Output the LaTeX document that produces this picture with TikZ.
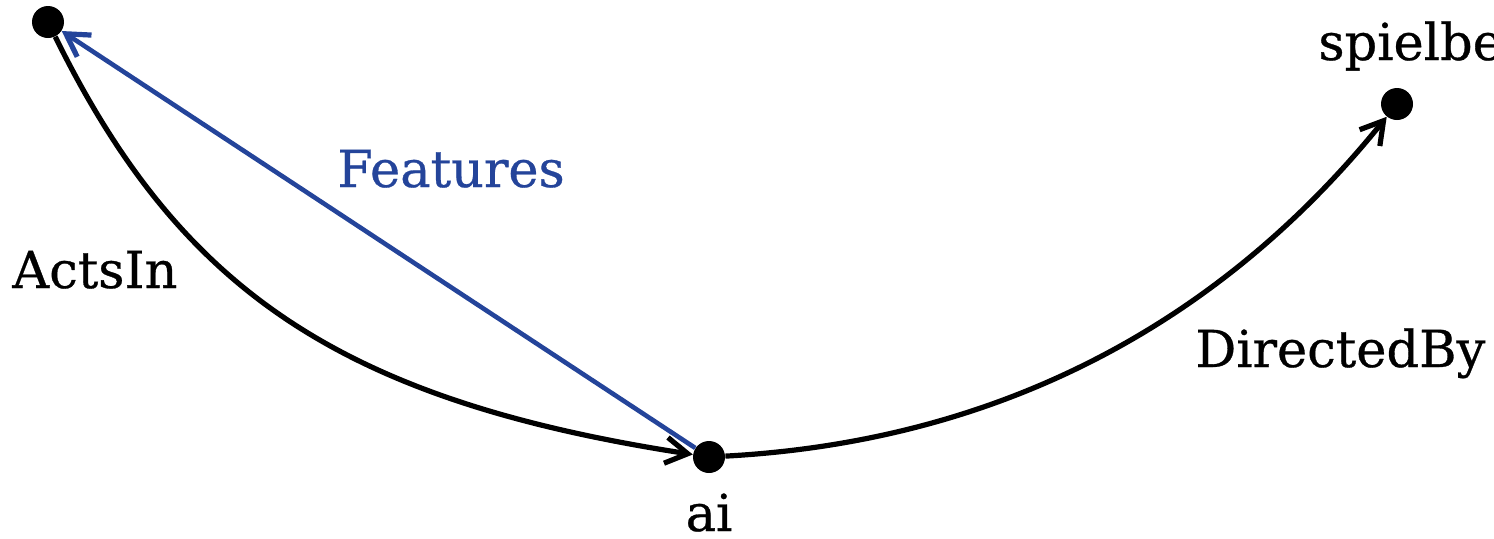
\documentclass[tikz,border=0pt]{standalone}
\usepackage{fontspec}
\setmainfont[FakeBold=0.6]{DejaVu Serif}
\usetikzlibrary{arrows.meta}
\definecolor{featblue}{RGB}{36,68,154}
\begin{document}
\begin{tikzpicture}[x=0.5pt,y=-0.5pt,
  dot/.style={circle,fill=black,inner sep=0pt,minimum size=16pt},
  edge/.style={line width=2.6pt,-{Straight Barb[length=11pt,width=13pt,line width=2.6pt]}},
  blueedge/.style={edge,color=featblue,line width=2.3pt},
  lbl/.style={font=\fontsize{25.5}{25.5}\selectfont,inner sep=0pt,anchor=base west}]
\useasboundingbox (0,0) rectangle (1494,538);
\node[dot] (m) at (48,22) {};
\node[dot] (ai) at (709,457) {};
\node[dot] (sp) at (1397,104) {};
\node[lbl] (tsp) at (1318,60) {spielberg};
\node[lbl,anchor=base,text depth=0pt] (tai) at (709,531) {ai};
\node[lbl,text=featblue] (tfeat) at (337,187) {Features};
\node[lbl] (tacts) at (12,288) {ActsIn};
\node[lbl] (tdir) at (1195,367) {DirectedBy};
\draw[edge] (m) .. controls (180,290) and (340,400) .. (ai);
\draw[blueedge] (ai) -- (m);
\draw[edge] (ai) .. controls (1022,440) and (1235,305) .. (sp);
\end{tikzpicture}
\end{document}
